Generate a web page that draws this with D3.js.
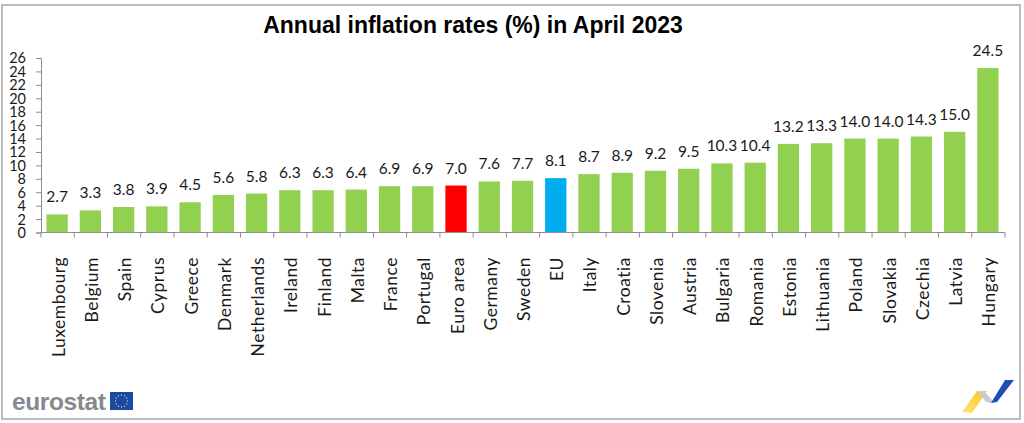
<!DOCTYPE html>
<html>
<head>
<meta charset="utf-8">
<script src="https://cdnjs.cloudflare.com/ajax/libs/d3/7.8.5/d3.min.js"></script>
<style>
  html, body { margin: 0; padding: 0; background: #fff; }
  svg { display: block; }
  text { font-family: Lato, "Open Sans", sans-serif; fill: #1a1a1a; }
</style>
</head>
<body>
<div id="chart"></div>
<script>
const countries = ['Luxembourg', 'Belgium', 'Spain', 'Cyprus', 'Greece', 'Denmark', 'Netherlands', 'Ireland', 'Finland', 'Malta',
    'France', 'Portugal', 'Euro area', 'Germany', 'Sweden', 'EU', 'Italy', 'Croatia', 'Slovenia', 'Austria',
    'Bulgaria', 'Romania', 'Estonia', 'Lithuania', 'Poland', 'Slovakia', 'Czechia', 'Latvia', 'Hungary'];
const rates = [2.7, 3.3, 3.8, 3.9, 4.5, 5.6, 5.8, 6.3, 6.3, 6.4,
    6.9, 6.9, 7.0, 7.6, 7.7, 8.1, 8.7, 8.9, 9.2, 9.5,
    10.3, 10.4, 13.2, 13.3, 14.0, 14.0, 14.3, 15.0, 24.5];
const yTicks = [0, 2, 4, 6, 8, 10, 12, 14, 16, 18, 20, 22, 24, 26];
const highlight = { 'Euro area': '#ff0000', 'EU': '#00aeef' };

const width = 1024;
const height = 423;
const axisColor = '#8c8c8c';

const svg = d3.select('#chart').append('svg')
    .attr('width', width)
    .attr('height', height);

// outer frame
svg.append('rect')
    .attr('x', 2).attr('y', 5)
    .attr('width', 1018).attr('height', 414)
    .attr('fill', '#fff')
    .attr('stroke', '#a6a6a6')
    .attr('stroke-width', 1.5);

svg.append('text')
    .attr('x', 473).attr('y', 33)
    .attr('text-anchor', 'middle')
    .style('font-family', '"Liberation Sans", Arial, sans-serif')
    .style('font-weight', 'bold')
    .style('font-size', '23px')
    .style('fill', '#000')
    .text('Annual inflation rates (%) in April 2023');

const x = d3.scaleBand().domain(countries).range([41, 1005]).paddingInner(0.36).paddingOuter(0.18);
const y = d3.scaleLinear().domain([0, 26]).range([232.5, 58]);

const g = svg.append('g');

g.selectAll('rect.bar')
    .data(countries)
    .enter()
    .append('rect')
    .attr('class', 'bar')
    .attr('x', d => x(d) - 0.5)
    .attr('width', x.bandwidth())
    .attr('y', (d, i) => y(rates[i]))
    .attr('height', (d, i) => y(0) - y(rates[i]))
    .attr('fill', d => highlight[d] || '#92d050');

g.selectAll('text.value')
    .data(countries)
    .enter()
    .append('text')
    .attr('class', 'value')
    .attr('x', d => x(d) + x.bandwidth() / 2 - 0.5)
    .attr('y', (d, i) => y(rates[i]) - 12)
    .attr('text-anchor', 'middle')
    .style('font-size', '15.5px')
    .text((d, i) => rates[i].toFixed(1));

// y axis
const yAxis = svg.append('g')
    .attr('transform', 'translate(41,0)')
    .call(d3.axisLeft(y).tickValues(yTicks).tickSize(5).tickPadding(10));
yAxis.selectAll('text').style('font-size', '14.5px').attr('dy', '0.34em');

// x axis, ticks fall between the categories
const step = x.step();
const edges = d3.range(countries.length + 1).map(i => x(countries[0]) - x.paddingOuter() * step + i * step);
const xAxisLine = svg.append('g');
xAxisLine.append('line')
    .attr('x1', 41).attr('x2', 1005)
    .attr('y1', y(0)).attr('y2', y(0));
xAxisLine.selectAll('line.tick')
    .data(edges)
    .enter()
    .append('line')
    .attr('class', 'tick')
    .attr('x1', d => d).attr('x2', d => d)
    .attr('y1', y(0)).attr('y2', y(0) + 5);
xAxisLine.selectAll('line').attr('stroke', axisColor).attr('stroke-width', 1);
yAxis.selectAll('line').attr('stroke', axisColor);
yAxis.select('.domain').attr('stroke', axisColor);

g.selectAll('text.country')
    .data(countries)
    .enter()
    .append('text')
    .attr('class', 'country')
    .attr('transform', d => `translate(${x(d) + x.bandwidth() / 2 + 7},257) rotate(-90)`)
    .attr('text-anchor', 'end')
    .style('font-size', '17.5px')
    .style('letter-spacing', '0.5px')
    .text(d => d);

// eurostat logo
svg.append('text')
    .attr('x', 12).attr('y', 410)
    .style('font-family', '"Liberation Sans", Arial, sans-serif')
    .style('font-weight', 'bold')
    .style('font-size', '24.5px')
    .style('letter-spacing', '-0.4px')
    .style('fill', '#868a8f')
    .text('eurostat');
svg.append('rect')
    .attr('x', 110).attr('y', 392)
    .attr('width', 23).attr('height', 18)
    .attr('fill', '#1a4aa8');
svg.append('g').selectAll('circle')
    .data(d3.range(12))
    .enter()
    .append('circle')
    .attr('cx', d => 121.5 + 6 * Math.cos(d * Math.PI / 6))
    .attr('cy', d => 401 + 6 * Math.sin(d * Math.PI / 6))
    .attr('r', 0.7)
    .attr('fill', '#e8d44a');

// ribbon mark, bottom right
const ribbon = svg.append('g');
const yellow = ribbon.append('defs').append('linearGradient')
    .attr('id', 'ribbonYellow')
    .attr('x1', 0).attr('y1', 1).attr('x2', 1).attr('y2', 0);
yellow.append('stop').attr('offset', 0).attr('stop-color', '#ffe680');
yellow.append('stop').attr('offset', 1).attr('stop-color', '#fdc414');
ribbon.append('path')
    .attr('d', 'M962,412 L977,391 L987,391 L972,413 Z')
    .attr('fill', 'url(#ribbonYellow)');
ribbon.append('path')
    .attr('d', 'M977,391 L984,391 L993,401 L991,403 L986,402 Z')
    .attr('fill', '#c9cdd2');
ribbon.append('path')
    .attr('d', 'M991,403 L1005,380 L1014,380 L997,402 Z')
    .attr('fill', '#1f4fb4');
</script>
</body>
</html>
